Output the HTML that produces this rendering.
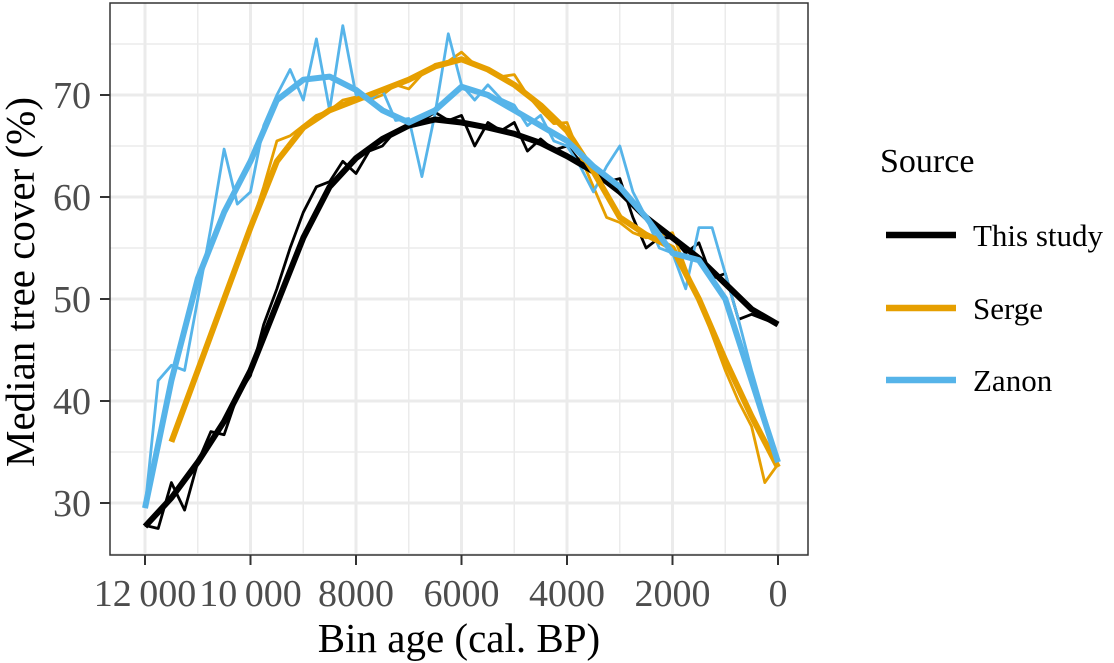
<!DOCTYPE html>
<html><head><meta charset="utf-8"><style>
body{margin:0;background:#fff}
svg{display:block;font-family:"Liberation Serif",serif}
</style></head><body>
<svg id="chart" width="1114" height="663">
<g id="grid"></g>
<g id="series"></g>
<rect x="110" y="3" width="698" height="552" fill="none" stroke="#333" stroke-width="1.5"/>
<g id="axes"></g>
<text x="459" y="652" font-size="41" text-anchor="middle" fill="#000">Bin age (cal. BP)</text>
<text transform="translate(34,282) rotate(-90)" font-size="41" text-anchor="middle" fill="#000">Median tree cover (%)</text>
<g>
<text x="880" y="172" font-size="34">Source</text>
<g><line x1="886" y1="235" x2="956" y2="235" stroke="#000" stroke-width="6.5"/><text x="973" y="246" font-size="31">This study</text></g>
<g><line x1="886" y1="308" x2="956" y2="308" stroke="#E69F00" stroke-width="6.5"/><text x="973" y="319" font-size="31">Serge</text></g>
<g><line x1="886" y1="380" x2="956" y2="380" stroke="#56B4E9" stroke-width="6.5"/><text x="973" y="391" font-size="31">Zanon</text></g>
</g>
</svg>
<script>
const xTicks=[12000,10000,8000,6000,4000,2000,0];
const xTickLabels=["12\u2009000","10\u2009000","8000","6000","4000","2000","0"];
const yTicks=[30,40,50,60,70];
const rawAges=[12000,11750,11500,11250,11000,10750,10500,10250,10000,9750,9500,9250,9000,8750,8500,8250,8000,7750,7500,7250,7000,6750,6500,6250,6000,5750,5500,5250,5000,4750,4500,4250,4000,3750,3500,3250,3000,2750,2500,2250,2000,1750,1500,1250,1000,750,500,250,0];
const blackRaw=[27.8,27.5,32,29.3,34,37,36.7,40.5,42.5,47.5,51,55,58.5,61,61.5,63.5,62.3,64.5,65,66.5,67,67.5,68.3,67.5,68,65,67.3,66.5,67.3,64.5,65.7,64.6,65,63.5,62.5,61.5,61.8,58,55,56,56,54.5,55.5,52,52.5,48,48.5,48,47.5];
const blueRaw=[29.5,42,43.5,43,50,57,64.7,59.3,60.5,67,70,72.5,69.5,75.5,68.5,76.8,70,69.5,70.5,67.5,67.7,62,68.2,76,71,69.5,71,69.6,69,67,68,65.5,65,63,60.5,63,65,60.5,58,55,54.5,51,57,57,52.5,48,43,38.5,34];
const orangeRaw=[null,null,36,39.5,43,46.5,50,53.5,57,61,65.5,66,67,68,68.5,69.5,69.8,69.5,70,71,70.6,72,73,73.3,74.2,73,72.5,71.8,72,70,68.5,67.2,67.3,64,61,58,57.5,56.5,56,56.2,56.5,53,50,46.5,43,40,37.5,32,33.8];
const smoothAges=[12000,11500,11000,10500,10000,9500,9000,8500,8000,7500,7000,6500,6000,5500,5000,4500,4000,3500,3000,2500,2000,1500,1000,500,0];
const blackSmooth=[27.7,30.5,34,38,43,49.5,56,61,63.8,65.7,67,67.6,67.3,66.8,66.2,65.3,64,62.5,60.5,58,56,54,51.5,49,47.5];
const blueSmooth=[29.5,42,52,58.5,63.5,69.5,71.5,71.8,70.5,68.5,67.3,68.5,70.8,70,68.5,67,65.5,63,61,58,54.5,53.8,50,42,34];
const orangeSmooth=[null,36,43,50,57,63.5,66.8,68.5,69.5,70.5,71.5,72.8,73.5,72.5,71,69,66.5,62.5,58,56.3,55,50,44,38.5,33.5];

const NS="http://www.w3.org/2000/svg";
const X=a=>778-a*0.05275;
const Y=v=>503-(v-30)*10.2;
const grid=document.getElementById('grid'),axes=document.getElementById('axes'),ser=document.getElementById('series');
function mk(tag,attrs,parent){const e=document.createElementNS(NS,tag);for(const k in attrs)e.setAttribute(k,attrs[k]);parent.appendChild(e);return e;}
mk('rect',{x:110,y:3,width:698,height:552,fill:'#fff'},grid);
for(let i=0;i<xTicks.length-1;i++){const m=(xTicks[i]+xTicks[i+1])/2;const l=mk('line',{x1:X(m),x2:X(m),y1:3,y2:555,stroke:'#ebebeb','stroke-width':1.5},grid);

}
[25,35,45,55,65,75].forEach(v=>{const l=mk('line',{x1:110,x2:808,y1:Y(v),y2:Y(v),stroke:'#ebebeb','stroke-width':1.5},grid);

});
xTicks.forEach((t,i)=>{const l=mk('line',{x1:X(t),x2:X(t),y1:3,y2:555,stroke:'#ebebeb','stroke-width':3},grid);


mk('line',{x1:X(t),x2:X(t),y1:555,y2:565,stroke:'#333','stroke-width':2},axes);
const tx=mk('text',{x:X(t),y:606,'font-size':38,'text-anchor':'middle',fill:'#4d4d4d'},axes);tx.textContent=xTickLabels[i];

});
yTicks.forEach(t=>{const l=mk('line',{x1:110,x2:808,y1:Y(t),y2:Y(t),stroke:'#ebebeb','stroke-width':3},grid);


mk('line',{x1:100,x2:110,y1:Y(t),y2:Y(t),stroke:'#333','stroke-width':2},axes);
const tx=mk('text',{x:91,y:Y(t)+13,'font-size':38,'text-anchor':'end',fill:'#4d4d4d'},axes);tx.textContent=t;

});
function line(ages,vals,color,w,name){const pts=[];ages.forEach((a,i)=>{if(vals[i]!=null)pts.push(X(a).toFixed(1)+','+Y(vals[i]).toFixed(1));});
const p=mk('polyline',{points:pts.join(' '),fill:'none',stroke:color,'stroke-width':w,'stroke-linejoin':'round'},ser);

}
line(rawAges,blackRaw,'#000',2.8,'this-study-raw-line');
line(rawAges,orangeRaw,'#E69F00',2.8,'serge-raw-line');
line(rawAges,blueRaw,'#56B4E9',2.8,'zanon-raw-line');
line(smoothAges,blackSmooth,'#000',6,'this-study-smooth-line');
line(smoothAges,orangeSmooth,'#E69F00',6,'serge-smooth-line');
line(smoothAges,blueSmooth,'#56B4E9',6,'zanon-smooth-line');
</script>
</body></html>
